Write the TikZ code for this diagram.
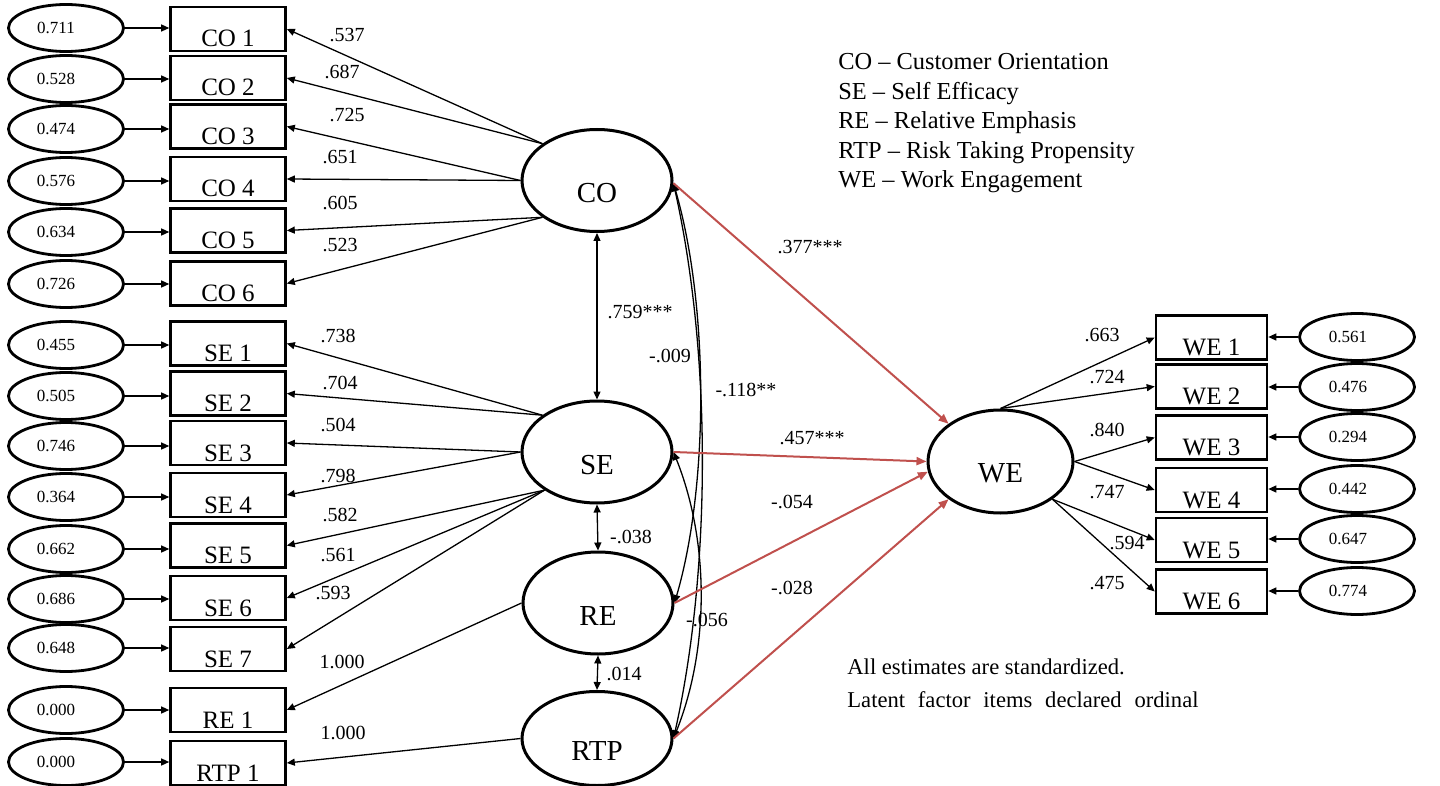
\documentclass[tikz,border=0pt]{standalone}
\usepackage{fontspec}
\setmainfont{Liberation Serif}
\usetikzlibrary{shapes.geometric,arrows.meta}
\definecolor{pathred}{RGB}{192,80,77}
% text sitting low inside item boxes and latent ellipses
\newcommand\boxtxt[1]{\raisebox{-9pt}[0pt][0pt]{#1}}
\newcommand\lattxt[1]{\raisebox{-11pt}[0pt][0pt]{#1}}
\begin{document}
\begin{tikzpicture}[x=0.5pt,y=-0.5pt,
  errv/.style={ellipse,draw,line width=1.4pt,minimum width=57.5pt,minimum height=23.5pt,inner sep=0pt,font=\fontsize{8.5}{10}\selectfont},
  itembox/.style={rectangle,draw,line width=1.3pt,minimum width=57.5pt,minimum height=22pt,inner sep=0pt,font=\fontsize{12.5}{14}\selectfont},
  latent/.style={ellipse,draw,line width=1.5pt,minimum width=75pt,minimum height=51pt,inner sep=0pt,font=\fontsize{14.5}{16}\selectfont},
  coef/.style={font=\fontsize{10}{12}\selectfont,inner sep=0pt},
  notes/.style={font=\fontsize{12.2}{14}\selectfont,inner sep=0pt,anchor=base west},
  link/.style={line width=0.65pt,-{Triangle[length=4pt,width=3.5pt]}},
  cov/.style={line width=0.65pt,{Triangle[length=4pt,width=3.5pt]}-{Triangle[length=4pt,width=3.5pt]}},
  regpath/.style={line width=1pt,draw=pathred,-{Triangle[length=5pt,width=4pt]}}
]
\fill[white] (0,0) rectangle (1440,786);
\useasboundingbox (0,0) rectangle (1440,786);

% ---- indicator boxes (left) ----
\foreach \n/\t/\y in {CO1/CO 1/29,CO2/CO 2/78,CO3/CO 3/126.5,CO4/CO 4/179,CO5/CO 5/230.5,CO6/CO 6/283.5,
  SE1/SE 1/343.5,SE2/SE 2/393.5,SE3/SE 3/443,SE4/SE 4/495,SE5/SE 5/545.5,SE6/SE 6/598,SE7/SE 7/649,
  RE1/RE 1/710,RTP1/RTP 1/763}
  \node[itembox] (\n) at (228,\y) {\boxtxt{\t}};

% ---- error variances (left) ----
\foreach \n/\y/\v in {CO1/28/0.711,CO2/79/0.528,CO3/129/0.474,CO4/181/0.576,CO5/232/0.634,CO6/284/0.726,
  SE1/345/0.455,SE2/396/0.505,SE3/446/0.746,SE4/497/0.364,SE5/549/0.662,SE6/599/0.686,SE7/648/0.648,
  RE1/710/0.000,RTP1/762/0.000}
{
  \node[errv] (e\n) at (66,\y) {\v\hspace*{10pt}};
  \draw[link] (e\n.east) -- (e\n.east -| \n.west);
}

% ---- latent factors ----
\node[latent] (CO) at (597,180.5) {\lattxt{CO}};
\node[latent] (SE) at (597,452) {\lattxt{SE}};
\node[latent] (RE) at (598,603) {\lattxt{RE}};
\node[latent,minimum height=47pt] (RTP) at (597,738.5) {\lattxt{RTP}};
\node[latent,minimum width=72.5pt,minimum height=51.5pt] (WE) at (1000.5,461.5) {\raisebox{-10.5pt}[0pt][0pt]{WE}};

% ---- loadings ----
\foreach \n/\a in {CO1/146,CO2/146,CO3/180,CO4/180,CO5/214,CO6/214}
  \draw[link] (CO.\a) -- (\n.east);
\foreach \n/\a in {SE1/146,SE2/146,SE3/180,SE4/180,SE5/216,SE6/216,SE7/216}
  \draw[link] (SE.\a) -- (\n.east);
\draw[link] (RE.west) -- (RE1.east);
\draw[link] (RTP.west) -- (RTP1.east);

\foreach \n/\x/\y/\v in {a1/347/35/.537,a2/342/72/.687,a3/347/115/.725,a4/340/157/.651,a5/340/203/.605,a6/340/245/.523,
  b1/338/336/.738,b2/340/383/.704,b3/338/425/.504,b4/338/476/.798,b5/340/515/.582,b6/338/555/.561,b7/333/593/.593,
  c1/342/662/1.000,c2/343/733/1.000}
  \node[coef] (\n) at (\x,\y) {\v};

% ---- factor covariances ----
\draw[cov] (CO.south) -- (SE.north);
\draw[cov] (SE.south) -- (RE.north);
\draw[cov] (RE.south) -- (RTP.north);
\draw[cov] (CO.-2) .. controls +(35,120) and +(35,-120) .. (RE.east);
\draw[cov] (CO.-2) .. controls +(38,170) and +(38,-170) .. (RTP.east);
\draw[cov] (SE.east) .. controls +(36,90) and +(36,-90) .. (RTP.east);

\node[coef] (k1) at (640,312) {.759***};
\node[coef] (k2) at (670,356) {-.009};
\node[coef] (k3) at (746,390) {-.118**};
\node[coef] (k4) at (631,537) {-.038};
\node[coef] (k5) at (624,674) {.014};
\node[coef] (k6) at (707,620) {-.056};

% ---- structural paths ----
\draw[regpath] (CO.-2) -- (WE.144);
\draw[regpath] (SE.east) -- (WE.west);
\draw[regpath] (RE.east) -- (WE.188);
\draw[regpath] (RTP.east) -- (WE.216);

\node[coef] (r1) at (810,247) {.377***};
\node[coef] (r2) at (812,438) {.457***};
\node[coef] (r3) at (792,502) {-.054};
\node[coef] (r4) at (792,588) {-.028};

% ---- work engagement indicators ----
\foreach \n/\t/\y/\ey/\v/\a in {WE1/WE 1/337.5/337/0.561/north,WE2/WE 2/386.5/387/0.476/north,
  WE3/WE 3/437.5/437/0.294/east,WE4/WE 4/490/489/0.442/east,WE5/WE 5/540/539/0.647/-36,WE6/WE 6/591.5/591/0.774/-36}
{
  \node[itembox,minimum width=55.5pt] (\n) at (1211.5,\y) {\boxtxt{\t}};
  \node[errv] (e\n) at (1357,\ey) {\v\hspace*{9pt}};
  \draw[link] (e\n.west) -- (e\n.west -| \n.east);
  \draw[link] (WE.\a) -- (\n.west);
}
\foreach \n/\x/\y/\v in {w1/1102/335/.663,w2/1107/377/.724,w3/1107/430/.840,w4/1107/492/.747,w5/1127/543/.594,w6/1107/583/.475}
  \node[coef] (\n) at (\x,\y) {\v};

% ---- legend and notes ----
\node[notes] (leg1) at (838,70) {CO -- Customer Orientation};
\node[notes] (leg2) at (838,99.5) {SE -- Self Efficacy};
\node[notes] (leg3) at (838,129) {RE -- Relative Emphasis};
\node[notes] (leg4) at (838,158.5) {RTP -- Risk Taking Propensity};
\node[notes] (leg5) at (838,188) {WE -- Work Engagement};
\node[notes,font=\fontsize{11.3}{13}\selectfont] (note1) at (847,674) {All estimates are standardized.};
\node[notes,font=\fontsize{11.3}{13}\selectfont] (note2) at (847,707) {\spaceskip=6.4pt Latent factor items declared ordinal};
\end{tikzpicture}
\end{document}
